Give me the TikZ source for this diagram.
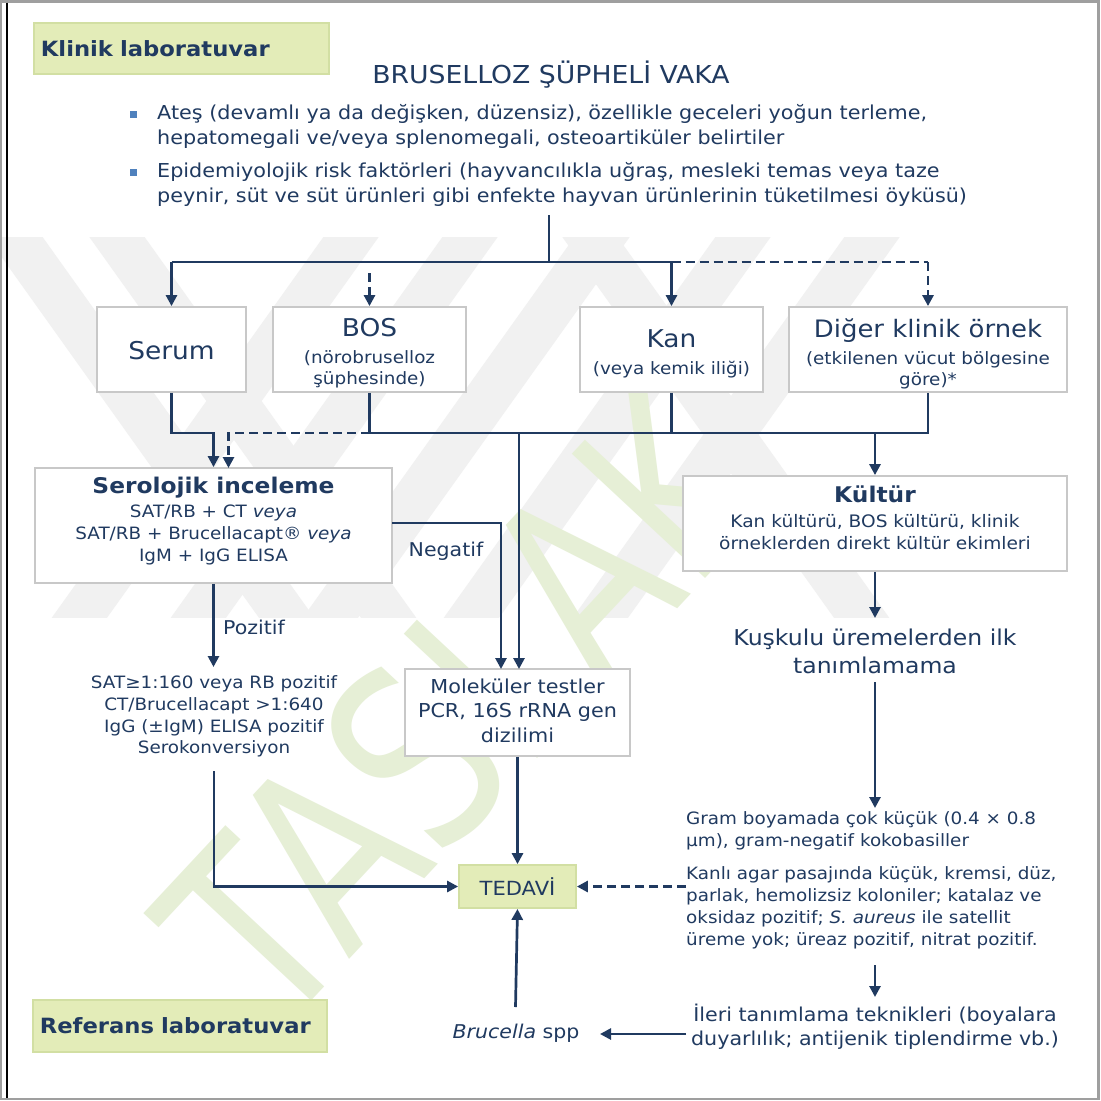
\documentclass[tikz,border=0pt]{standalone}
\usepackage{fontspec}
\setmainfont{DejaVu Sans}[FakeStretch=1.08]
\newfontfamily\wmfont{DejaVu Sans}[FakeStretch=0.78]
\usetikzlibrary{arrows.meta}
\definecolor{navy}{HTML}{203A60}
\definecolor{boxgrey}{HTML}{C8C8C8}
\definecolor{labgreen}{HTML}{E3ECB8}
\definecolor{labgreenb}{HTML}{D2DFA3}
\definecolor{bulletblue}{HTML}{4F81BD}
\definecolor{wmgreen}{HTML}{E6EFD6}
\definecolor{wmgrey}{HTML}{F1F1F1}
\newcommand\myfs[2]{\fontsize{#1}{#2}\selectfont}
\begin{document}
\begin{tikzpicture}[x=1pt,y=-1pt,
  line/.style={draw=navy,line width=2.7pt},
  arr/.style={line,-{Triangle[length=11pt,width=11pt]}},
  dsh/.style={line,dash pattern=on 9pt off 5pt},
  darr/.style={arr,dash pattern=on 9pt off 5pt},
  wbox/.style={draw=boxgrey,line width=1.8pt,fill=white,inner sep=0pt},
  gbox/.style={draw=labgreenb,line width=1.8pt,fill=labgreen,text=navy,inner sep=0pt},
  txt/.style={text=navy,inner sep=0pt},
]
\useasboundingbox (0,0) rectangle (1101,1101);
\fill[white] (0,0) rectangle (1101,1101);
% watermark
\begin{scope}
\clip (0,237) rectangle (1101,617);
\foreach \a in {15,117,590}
  \draw[wmgrey,line width=45pt] (\a-40,181) -- (\a+311,673);
\foreach \a in {351,470,602,743,872}
  \draw[wmgrey,line width=45pt] (\a+40,181) -- (\a-311,673);
\end{scope}
\node[text=wmgreen,inner sep=0pt,rotate=47,font=\wmfont\fontsize{250}{250}\selectfont] (wm) at (462,706) {TASLAK};
% frame
\draw[gray!75,line width=2.5pt] (1,1.5) rectangle (1098.5,1099);
\draw[black,line width=2pt] (7,2.5) -- (7,1098);
% header
\node[gbox,anchor=north west,minimum width=295pt,minimum height=51pt,text width=281pt,inner xsep=7pt,align=left,font=\bfseries\myfs{21}{25}] (klinik) at (33,22) {Klinik laboratuvar};
\node[gbox,anchor=north west,minimum width=294pt,minimum height=52pt,text width=280pt,inner xsep=6pt,align=left,font=\bfseries\myfs{21}{25}] (referans) at (32,999) {Referans laboratuvar};
\node[txt,font=\myfs{24.7}{28}] (title) at (551,75) {BRUSELLOZ ŞÜPHELİ VAKA};
\node[fill=bulletblue,minimum size=7pt,inner sep=0pt] (b1) at (133,114) {};
\node[fill=bulletblue,minimum size=7pt,inner sep=0pt] (b2) at (133,172) {};
\node[txt,anchor=west,align=left,font=\myfs{19.2}{25}] (bt1) at (157,126.5) {Ateş (devamlı ya da değişken, düzensiz), özellikle geceleri yoğun terleme,\\hepatomegali ve/veya splenomegali, osteoartiküler belirtiler};
\node[txt,anchor=west,align=left,font=\myfs{19.2}{25}] (bt2) at (157,184.5) {Epidemiyolojik risk faktörleri (hayvancılıkla uğraş, mesleki temas veya taze\\peynir, süt ve süt ürünleri gibi enfekte hayvan ürünlerinin tüketilmesi öyküsü)};
% sample boxes
\node[wbox,minimum width=149pt,minimum height=85pt] (serum) at (171.5,349.5) {};
\node[wbox,minimum width=193pt,minimum height=85pt] (bos) at (369.5,349.5) {};
\node[wbox,minimum width=183pt,minimum height=85pt] (kan) at (671.5,349.5) {};
\node[wbox,minimum width=278pt,minimum height=85pt] (diger) at (928,349.5) {};
\node[txt,font=\myfs{24.5}{30}] (serumT) at (171.5,351) {Serum};
\node[txt,align=center,font=\myfs{17}{21}] (bosT) at (369.5,353) {{\myfs{24.5}{30}BOS}\\[6pt](nörobruselloz\\şüphesinde)};
\node[txt,align=center,font=\myfs{17}{21}] (kanT) at (671.5,354) {{\myfs{24.5}{30}Kan}\\[6pt](veya kemik iliği)};
\node[txt,align=center,font=\myfs{17}{21}] (digerT) at (928,353.5) {{\myfs{24}{30}Diğer klinik örnek}\\[6pt](etkilenen vücut bölgesine\\göre)*};
% tests
\node[wbox,minimum width=357pt,minimum height=115pt] (sero) at (213.5,525.5) {};
\node[txt,align=center,font=\myfs{17}{22}] (seroT) at (213.5,521) {{\bfseries\myfs{21.6}{26}Serolojik inceleme}\\[2pt]SAT/RB + CT \textit{veya}\\SAT/RB + Brucellacapt® \textit{veya}\\IgM + IgG ELISA};
\node[wbox,minimum width=384pt,minimum height=95pt] (kultur) at (875,523.5) {};
\node[txt,align=center,font=\myfs{17.2}{22}] (kulturT) at (875,517.5) {{\bfseries\myfs{21.6}{26}Kültür}\\[3pt]Kan kültürü, BOS kültürü, klinik\\örneklerden direkt kültür ekimleri};
\node[wbox,minimum width=225pt,minimum height=87pt] (mol) at (517.5,712.5) {};
\node[txt,align=center,font=\myfs{19.2}{24.5}] (molT) at (517.5,710.5) {Moleküler testler\\PCR, 16S rRNA gen\\dizilimi};
\node[gbox,minimum width=117pt,minimum height=43pt,font=\myfs{19.5}{23}] (tedavi) at (517.5,886.5) {TEDAVİ};
\node[txt,font=\myfs{19}{22}] (negT) at (446,551) {Negatif};
\node[txt,font=\myfs{19}{22}] (pozT) at (254,627) {Pozitif};
\node[txt,align=center,font=\myfs{17}{21.7}] (satT) at (214,716.5) {SAT≥1:160 veya RB pozitif\\CT/Brucellacapt >1:640\\IgG (±IgM) ELISA pozitif\\Serokonversiyon};
\node[txt,align=center,font=\myfs{21.8}{28}] (kuskuluT) at (875,651) {Kuşkulu üremelerden ilk\\tanımlamama};
\node[txt,anchor=west,align=left,font=\myfs{17}{22}] (gramT) at (686,831) {Gram boyamada çok küçük (0.4 × 0.8\\µm), gram-negatif kokobasiller};
\node[txt,anchor=west,align=left,font=\myfs{17}{22}] (kanliT) at (686,908) {Kanlı agar pasajında küçük, kremsi, düz,\\parlak, hemolizsiz koloniler; katalaz ve\\oksidaz pozitif; \textit{S. aureus} ile satellit\\üreme yok; üreaz pozitif, nitrat pozitif.};
\node[txt,align=center,font=\myfs{19.1}{24}] (ileriT) at (875,1027) {İleri tanımlama teknikleri (boyalara\\duyarlılık; antijenik tiplendirme vb.)};
\node[txt,font=\myfs{19}{23}] (brucT) at (516,1033) {\textit{Brucella} spp};
% coordinates
\coordinate (top) at (549,215);
\coordinate (bar) at (549,262);
\coordinate (bus) at (549,433);
\coordinate (bosd) at (369.5,273);
\coordinate (sdt) at (228.5,468);
\coordinate (mt1) at (501,669);
\coordinate (mt2) at (519,669);
\coordinate (sneg) at (392,523);
\coordinate (p1) at (213.5,667);
\coordinate (s1) at (214,771);
\coordinate (k1) at (875,618);
\coordinate (k2) at (875,682);
\coordinate (k3) at (875,808);
\coordinate (k4) at (875,965);
\coordinate (k5) at (875,997);
\coordinate (br1) at (515.5,1007);
\coordinate (ib) at (686,1034);
\coordinate (ba) at (600,1034);
% connectors
\draw[line] (top) -- (bar);
\draw[line] (serum.north |- bar) -- (kan.north |- bar);
\draw[dsh] (kan.north |- bar) -- (diger.north |- bar);
\draw[arr] (serum.north |- bar) -- (serum.north);
\draw[arr] (kan.north |- bar) -- (kan.north);
\draw[darr] (diger.north |- bar) -- (diger.north);
\draw[darr] (bosd) -- (bos.north);
\draw[arr] (serum.south) |- (sero.north |- bus) -- (sero.north);
\draw[darr] (bos.south |- bus) -| (sdt);
\draw[line] (bos.south) -- (bos.south |- bus) -- (diger.south |- bus) -- (diger.south);
\draw[line] (kan.south) -- (kan.south |- bus);
\draw[arr] (kultur.north |- bus) -- (kultur.north);
\draw[arr] (mt2 |- bus) -- (mt2);
\draw[arr] (sneg) -| (mt1);
\draw[arr] (sero.south) -- (p1);
\draw[arr] (s1) |- (tedavi.west);
\draw[arr] (mol.south) -- (tedavi.north);
\draw[darr] (kanliT.west |- tedavi.east) -- (tedavi.east);
\draw[arr] (br1) -- (tedavi.south);
\draw[arr] (ib) -- (ba);
\draw[arr] (kultur.south) -- (k1);
\draw[arr] (k2) -- (k3);
\draw[arr] (k4) -- (k5);
\end{tikzpicture}
\end{document}
